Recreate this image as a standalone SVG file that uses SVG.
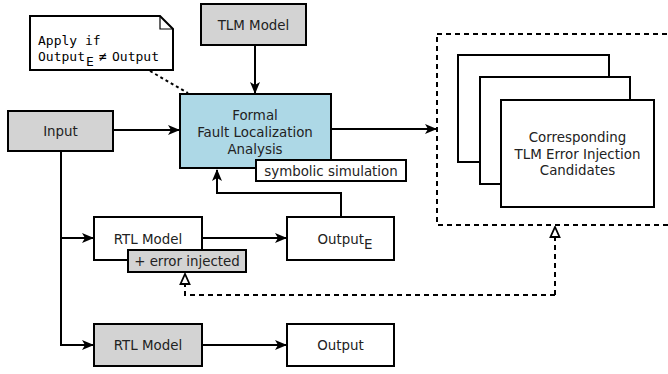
<svg xmlns="http://www.w3.org/2000/svg" width="668" height="374" viewBox="0 0 668 374">
  <style>
    .box { stroke: #000; stroke-width: 2; }
    .white { fill: #fff; }
    .gray { fill: #d3d3d3; }
    .blue { fill: #add8e6; }
    .t { font-family: "DejaVu Sans", sans-serif; font-size: 13.4px; fill: #222; text-anchor: middle; }
    .mono { font-family: "DejaVu Sans Mono", monospace; font-size: 13px; fill: #000; }
    .line { fill: none; stroke: #000; stroke-width: 2; }
    .dash { fill: none; stroke: #000; stroke-width: 2; stroke-dasharray: 5 4; }
  </style>
  <defs>
    <marker id="arr" viewBox="0 0 12 10" refX="11" refY="5" markerWidth="12" markerHeight="10" markerUnits="userSpaceOnUse" orient="auto">
      <path d="M0,0 L12,5 L0,10 L3,5 Z" fill="#000"/>
    </marker>
    <marker id="hollow" viewBox="0 0 12 12" refX="11" refY="6" markerWidth="12" markerHeight="12" markerUnits="userSpaceOnUse" orient="auto">
      <path d="M1,1.5 L11,6 L1,10.5 Z" fill="#fff" stroke="#000" stroke-width="1.8"/>
    </marker>
  </defs>

  <!-- connectors -->
  <g id="connectors">
    <line class="line" x1="255" y1="45" x2="255" y2="93" marker-end="url(#arr)"/>
    <line class="line" x1="113" y1="130" x2="179" y2="130" marker-end="url(#arr)"/>
    <line class="line" x1="331" y1="129" x2="436" y2="129" marker-end="url(#arr)"/>
    <polyline class="line" points="61,151 61,345 93,345" marker-end="url(#arr)"/>
    <line class="line" x1="61" y1="238" x2="93" y2="238" marker-end="url(#arr)"/>
    <line class="line" x1="202" y1="238" x2="286" y2="238" marker-end="url(#arr)"/>
    <line class="line" x1="202" y1="345" x2="286" y2="345" marker-end="url(#arr)"/>
    <polyline class="line" points="341,217 341,193 217,193 217,170" marker-end="url(#arr)"/>
    <line x1="150" y1="71" x2="188" y2="93" stroke="#000" stroke-width="2" stroke-dasharray="3 3"/>
    <polyline class="dash" points="555,295 555,227" marker-end="url(#hollow)"/>
    <polyline class="dash" points="555,295 185,295 185,274" marker-end="url(#hollow)"/>
  </g>

  <!-- note -->
  <g id="note">
    <path class="box white" d="M30,16 H160 L173,29 V70 H30 Z"/>
    <path d="M160,16 V29 H173" fill="none" stroke="#000" stroke-width="1.2"/>
    <text class="mono" x="38" y="45">Apply if</text>
    <text class="mono" x="38" y="61">Output</text>
    <text class="mono" x="86" y="66">E</text>
    <text class="mono" x="99" y="61">≠</text>
    <text class="mono" x="112" y="61">Output</text>
  </g>

  <g id="tlm-model">
    <rect class="box gray" x="201" y="4" width="105" height="41"/>
    <text class="t" x="253.5" y="29.5">TLM Model</text>
  </g>

  <g id="input">
    <rect class="box gray" x="8" y="111" width="105" height="40"/>
    <text class="t" x="60.5" y="136">Input</text>
  </g>

  <g id="analysis">
    <rect class="box blue" x="180" y="94" width="151" height="74"/>
    <text class="t" x="255" y="120">Formal</text>
    <text class="t" x="255" y="137">Fault Localization</text>
    <text class="t" x="255" y="154">Analysis</text>
  </g>

  <g id="symbolic">
    <rect class="box white" x="256" y="160" width="150" height="21"/>
    <text class="t" x="331" y="175.5">symbolic simulation</text>
  </g>

  <g id="candidates">
    <rect class="dash" x="437" y="34" width="245" height="191"/>
    <rect class="box white" x="458" y="55" width="151" height="107"/>
    <rect class="box white" x="480" y="77" width="150" height="107"/>
    <rect class="box white" x="501" y="100" width="153" height="107"/>
    <text class="t" x="577.5" y="142">Corresponding</text>
    <text class="t" x="577.5" y="158.5">TLM Error Injection</text>
    <text class="t" x="577.5" y="175">Candidates</text>
  </g>

  <g id="rtl-error">
    <rect class="box white" x="94" y="217" width="108" height="43"/>
    <text class="t" x="148" y="243.5">RTL Model</text>
  </g>

  <g id="error-injected">
    <rect class="box gray" x="128" y="250" width="118" height="22"/>
    <text class="t" x="187" y="266">+ error injected</text>
  </g>

  <g id="output-e">
    <rect class="box white" x="287" y="217" width="107" height="43"/>
    <text class="t" x="345" y="244">Output<tspan dy="5">E</tspan></text>
  </g>

  <g id="rtl-model">
    <rect class="box gray" x="94" y="324" width="108" height="42"/>
    <text class="t" x="148" y="350">RTL Model</text>
  </g>

  <g id="output">
    <rect class="box white" x="287" y="324" width="107" height="42"/>
    <text class="t" x="340.5" y="350">Output</text>
  </g>
</svg>
